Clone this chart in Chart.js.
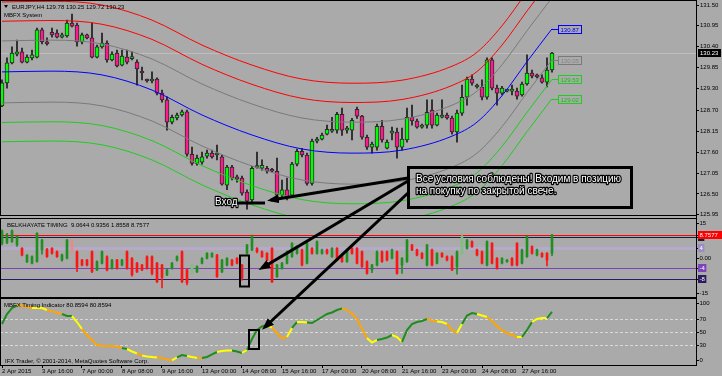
<!DOCTYPE html>
<html lang="ru">
<head>
<meta charset="utf-8">
<title>EURJPY H4 - MBFX System</title>
<script src="https://cdn.jsdelivr.net/npm/chart.js@4.4.1/dist/chart.umd.min.js"></script>
<style>
  html, body { margin: 0; padding: 0; background: #aaaaaa; }
  #screen { position: relative; width: 722px; height: 376px; overflow: hidden; background: #aaaaaa; }
  #screen canvas { position: absolute; left: 0; }
  #notes { position: absolute; left: 0; top: 0; font-family: 'Liberation Sans', Arial, sans-serif; }
  #notes .small { font-size: 6px; fill: #000; white-space: pre; }
  #notes .call { font-size: 10px; fill: #fff; stroke: #000; stroke-width: 2.4px; paint-order: stroke; stroke-linejoin: round; }
</style>
</head>
<body>
<div id="screen">
  <canvas id="mainChart" width="722" height="219" style="top:0"></canvas>
  <canvas id="belkChart" width="722" height="80" style="top:218px"></canvas>
  <canvas id="mbfxChart" width="722" height="78" style="top:298px"></canvas>
  <svg id="notes" width="722" height="376">
    <defs>
      <marker id="head" markerUnits="userSpaceOnUse" markerWidth="12" markerHeight="9" refX="8" refY="4.5" orient="auto">
        <path d="M0,0 L12,4.5 L0,9 z" fill="#000"/>
      </marker>
    </defs>
    <polygon points="4,5 8,5 6,8" fill="#000"/>
    <text class="small" x="12" y="8.5">EURJPY,H4 129.78 130.25 129.72 130.23</text>
    <text class="small" x="4" y="17">MBFX System</text>
    <text class="small" x="7" y="227">BELKHAYATE TIMING  9.0644 0.9356 1.8558 8.7577</text>
    <text class="small" x="4" y="307">MBFX Timing Indicator 80.8594 80.8594</text>
    <text class="small" x="5" y="363">IFX Trader, © 2001-2014, MetaQuotes Software Corp.</text>

    <line x1="408" y1="178" x2="271" y2="200" stroke="#000" stroke-width="3" marker-end="url(#head)"/>
    <line x1="408" y1="181" x2="262" y2="268" stroke="#000" stroke-width="3" marker-end="url(#head)"/>
    <line x1="408" y1="193" x2="265" y2="327" stroke="#000" stroke-width="3" marker-end="url(#head)"/>
    <rect x="408.5" y="167.5" width="223" height="40" fill="none" stroke="#000" stroke-width="3"/>
    <text class="call" x="416" y="182">Все условия соблюдены! Входим в позицию</text>
    <text class="call" x="416" y="194">на покупку по закрытой свече.</text>
    <text class="call" x="215" y="205">Вход</text>
    <line x1="237" y1="203" x2="265" y2="203" stroke="#000" stroke-width="3"/>
    <rect x="240" y="255.5" width="9" height="31" fill="none" stroke="#000" stroke-width="2"/>
    <rect x="249" y="330" width="10" height="19" fill="none" stroke="#000" stroke-width="2"/>
  </svg>
</div>
<script>
const FONT = "'Liberation Sans', Arial, sans-serif";
Chart.defaults.font.family = FONT;
Chart.defaults.animation = false;

// EURJPY H4, 2 Apr - 28 Apr 2015 (bar 0 .. 110)
const priceOpen = [128.83,129.44,129.97,130.20,130.26,129.99,130.10,130.12,130.84,130.52,
  130.78,130.76,130.65,130.68,131.02,130.97,130.52,130.71,130.63,130.12,
  130.39,130.49,130.05,130.23,129.91,130.12,130.08,129.99,129.75,129.52,
  129.49,129.54,129.17,128.99,128.40,128.51,128.59,128.67,127.55,127.31,
  127.34,127.50,127.58,127.53,127.48,126.73,127.21,126.95,126.92,126.55,
  126.34,127.20,127.18,127.18,127.13,127.10,126.47,126.61,126.47,127.29,
  127.63,127.53,126.78,127.90,127.95,128.08,128.16,128.19,128.61,128.19,
  128.19,128.74,128.56,128.00,127.74,127.74,128.29,127.71,128.11,128.14,
  127.74,127.93,128.53,128.43,128.27,128.32,128.72,128.32,128.53,128.59,
  128.51,128.14,128.64,129.06,129.54,129.33,129.33,129.06,130.05,129.30,
  129.17,129.22,129.22,129.22,129.12,129.41,129.70,129.65,129.57,129.46,
  129.78];
const priceHigh = [129.52,130.10,130.39,130.57,130.36,130.18,130.31,130.89,130.89,130.63,
  130.89,130.84,130.76,131.10,131.26,131.02,130.76,130.73,131.02,130.44,
  130.76,130.55,130.26,130.31,130.31,130.31,130.26,130.05,129.86,129.54,
  129.73,129.57,129.25,129.07,128.59,128.64,128.72,128.72,127.74,127.53,
  127.61,127.66,127.66,127.79,127.53,127.26,127.26,127.00,126.97,126.61,
  127.23,127.61,127.40,127.23,127.18,127.45,126.87,126.92,127.34,127.69,
  127.71,127.58,127.95,128.00,128.11,128.32,128.53,128.66,128.77,128.29,
  128.50,128.80,128.58,128.06,127.87,128.35,128.45,127.93,128.27,128.24,
  128.24,128.77,128.85,128.48,128.35,128.99,128.99,128.64,128.99,128.64,
  128.56,128.72,129.38,129.59,129.65,129.41,129.52,130.10,130.10,129.38,
  129.35,129.27,129.38,129.30,129.46,130.18,129.78,129.67,129.65,130.10,
  130.25];
const priceLow = [128.81,129.30,129.94,130.15,129.97,129.97,130.05,130.10,130.47,130.44,
  130.65,130.63,130.63,130.65,130.92,130.41,130.47,130.60,130.10,130.10,
  130.36,129.99,130.02,129.86,129.89,129.94,130.05,129.38,129.52,129.46,
  129.44,129.12,128.93,128.19,128.35,128.46,128.56,127.50,127.26,127.26,
  127.29,127.45,127.45,127.40,126.73,126.61,126.87,126.81,126.47,126.10,
  126.28,127.18,127.13,127.05,127.08,126.41,126.39,126.34,126.41,127.24,
  127.48,126.73,126.73,127.85,127.93,128.06,128.13,128.11,128.05,128.11,
  127.93,128.50,127.95,127.68,127.58,127.66,127.87,127.69,127.93,127.45,
  127.66,127.87,128.32,128.24,128.24,128.24,128.24,128.30,128.51,128.48,
  128.08,127.87,128.58,128.85,129.38,129.30,128.99,129.01,129.25,128.85,
  129.12,129.20,129.12,129.01,129.09,129.38,129.57,129.57,129.43,129.33,
  129.72];
const priceClose = [129.44,129.97,130.23,130.26,129.99,130.12,130.18,130.84,130.52,130.47,
  130.71,130.65,130.71,131.02,130.94,130.52,130.71,130.63,130.12,130.39,
  130.49,130.05,130.20,129.89,130.15,129.99,130.12,129.81,129.70,129.49,
  129.54,129.17,128.99,128.40,128.53,128.59,128.67,127.55,127.31,127.45,
  127.48,127.58,127.48,127.58,126.76,127.21,126.92,126.89,126.52,126.31,
  127.18,127.21,127.26,127.10,127.10,126.47,126.61,126.41,127.29,127.63,
  127.53,126.78,127.90,127.95,128.06,128.21,128.21,128.61,128.19,128.21,
  128.45,128.56,128.00,127.74,127.82,128.29,127.93,127.87,128.14,127.74,
  127.95,128.53,128.43,128.27,128.32,128.66,128.32,128.59,128.59,128.51,
  128.14,128.64,129.06,129.54,129.43,129.38,129.06,130.05,129.30,129.17,
  129.30,129.25,129.25,129.09,129.41,129.70,129.62,129.60,129.46,129.78,
  130.23];
const lastPrice = 130.23;
const priceTicks = [131.50, 130.95, 130.40, 129.85, 129.30, 128.70, 128.15, 127.60, 127.05, 126.50, 125.95];

// MBFX System channel, sampled along the bars
const bandBars   = [0, 10, 20, 30, 40, 50, 60, 70, 80, 90, 95, 100, 105, 110];
const bandRedOut = [131.58,131.60,131.50,131.10,130.44,129.91,129.54,129.43,129.51,129.88,130.25,130.95,131.85,132.72];
const bandRedIn  = [131.07,131.09,130.99,130.59,129.93,129.40,129.03,128.92,129.00,129.37,129.74,130.44,131.34,132.21];
const bandGrayUp = [130.55,130.57,130.47,130.07,129.41,128.88,128.51,128.40,128.48,128.85,129.22,129.92,130.82,131.69];
const bandMid    = [129.73,129.75,129.65,129.25,128.59,128.06,127.69,127.58,127.66,128.03,128.40,129.10,130.00,130.87];
const bandGrayDn = [128.91,128.93,128.83,128.43,127.77,127.24,126.87,126.76,126.84,127.21,127.58,128.28,129.18,130.05];
const bandGreenIn  = [128.39,128.41,128.31,127.91,127.25,126.72,126.35,126.24,126.32,126.69,127.06,127.76,128.66,129.53];
const bandGreenOut = [127.88,127.90,127.80,127.40,126.74,126.21,125.84,125.73,125.81,126.18,126.55,127.25,128.15,129.02];

// Belkhayate timing bars
const belkOpen = [5.6,6.0,6.3,5.0,3.7,-1.4,-2.0,-1.4,3.1,3.3,
  3.7,2.4,-0.8,-0.1,6.9,2.4,-0.8,-0.8,2.4,-4.6,
  -2.0,0.5,-4.0,-0.8,-2.7,2.4,-0.1,-2.0,-2.7,0.5,
  0.5,-2.0,-2.7,-6.5,-4.0,-0.8,2.4,-4.6,-5.9,-5.3,
  -2.0,-0.1,0.5,1.1,-5.3,-2.7,-0.8,-0.1,-2.7,1.8,
  3.1,3.7,2.4,1.8,3.7,-7.2,-4.0,-2.0,0.5,1.8,
  3.1,-2.0,3.7,1.8,1.8,3.1,0.5,3.7,1.1,-1.4,
  3.7,3.7,2.4,-1.4,-4.6,-2.7,2.4,2.4,-0.1,2.4,
  -2.7,-1.4,5.0,3.1,1.8,-2.7,3.1,-2.0,1.8,0.5,
  0.5,-3.3,1.8,3.7,6.3,3.1,2.4,-2.7,5.6,-0.1,
  -2.0,-1.4,-0.1,5.6,-2.0,0.5,4.4,1.1,1.8,1.8,
  1.86];
const belkHigh = [10.8,9.5,10.8,8.5,4.0,1.3,0.8,9.8,7.2,3.7,
  4.0,2.8,1.5,7.2,7.2,2.8,-0.5,-0.5,2.8,-1.1,
  2.8,0.8,-0.5,-0.5,-0.5,2.8,0.2,-1.7,-2.4,0.8,
  0.8,-1.7,-2.4,-4.3,-1.7,0.8,2.8,-4.3,-2.4,-3.0,
  0.2,2.1,2.1,1.4,-0.5,0.2,-0.5,0.2,-2.4,5.3,
  8.8,4.0,2.8,2.1,4.0,-2.4,-1.7,2.8,5.9,4.7,
  3.4,5.9,4.0,6.6,3.4,3.4,4.0,4.0,1.4,3.4,
  4.0,4.0,2.8,-1.1,-2.4,2.8,2.8,2.8,3.4,2.8,
  0.2,7.2,5.3,3.4,2.1,5.3,3.4,2.1,2.1,0.8,
  0.8,2.8,9.5,7.2,6.6,3.4,2.8,6.6,5.9,0.2,
  0.2,-0.5,0.2,5.9,3.4,8.5,4.7,3.4,2.1,2.1,
  9.06];
const belkLow = [5.0,5.5,6.0,4.5,0.8,-1.8,-2.3,-1.6,1.5,0.2,
  1.5,0.2,-1.2,-0.4,2.0,-5.3,-3.0,-3.0,-5.6,-4.9,
  -2.3,-5.0,-4.3,-4.3,-3.0,-4.3,-7.0,-5.6,-4.9,-4.3,
  -6.5,-9.5,-11.5,-6.8,-4.3,-1.2,-9.5,-10.4,-6.2,-5.6,
  -2.3,-0.4,0.2,-7.5,-5.6,-3.0,-3.0,-2.3,-8.5,1.5,
  2.8,2.0,0.2,-1.1,-9.5,-7.5,-4.3,-2.3,0.2,1.5,
  -3.0,-2.3,1.5,1.5,1.5,1.5,0.2,-1.1,-1.7,-1.7,
  1.5,-2.3,-3.6,-6.2,-5.6,-3.0,-1.7,-1.1,-0.4,-6.2,
  -5.9,-1.7,2.8,0.8,-0.4,-3.0,-3.0,-2.3,0.2,-1.1,
  -4.9,-6.2,1.5,3.4,4.1,0.8,-2.3,-3.0,-2.3,-4.3,
  -2.3,-1.7,-3.0,-3.0,-2.3,0.2,1.5,0.8,0.2,-3.0,
  0.94];
const belkClose = [10.4,9.0,10.4,8.2,1.1,1.1,0.5,9.5,6.9,0.5,
  1.8,0.5,1.2,6.9,2.4,-3.5,-2.7,-2.7,-5.2,-1.4,
  2.4,-4.6,-0.8,-4.0,-0.8,-4.0,-6.5,-5.3,-4.6,-4.0,
  -5.9,-9.1,-7.5,-4.6,-2.0,0.5,-9.1,-9.5,-2.7,-3.3,
  -0.1,1.8,1.8,-7.2,-0.8,-0.1,-2.7,-2.0,-7.8,5.0,
  8.2,2.4,0.5,-0.8,-9.1,-2.7,-2.0,2.4,5.6,4.4,
  -2.7,5.6,1.8,6.3,3.1,1.8,3.7,-0.8,-1.4,3.1,
  1.8,-2.0,-3.3,-5.9,-2.7,2.4,-1.4,-0.8,3.1,-5.9,
  -0.1,6.9,3.1,1.1,-0.1,5.0,-2.7,1.8,0.5,-0.8,
  -4.6,2.4,8.2,6.9,4.4,1.1,-2.0,6.3,-2.0,-4.0,
  -0.1,-0.8,-2.7,-2.7,3.1,8.2,1.8,3.1,0.5,-0.8,
  8.76];
const belkLight = [14, 38, 92];
const belkLast = 8.7577;

// MBFX timing line and its colour state per segment (G rising, Y flat, O falling)
const mbfxValues = [62.3,77.7,86.9,90.8,90.8,88.5,86.9,86.9,86.9,83.8,
  81.5,80.0,77.7,74.6,74.6,65.4,54.6,45.4,37.7,30.0,
  28.5,28.5,28.5,27.7,25.4,23.8,20.0,16.9,13.8,12.3,
  11.5,10.8,10.0,7.7,6.2,10.8,14.6,13.1,11.5,10.0,
  10.0,11.5,15.4,19.2,20.8,21.5,21.5,20.0,17.7,22.3,
  39.2,53.1,58.5,60.8,56.9,48.5,40.0,42.3,56.2,65.4,
  65.4,64.6,63.8,68.5,73.1,77.7,80.0,83.8,86.1,83.8,
  78.5,70.0,54.6,40.8,33.8,37.7,39.2,41.5,45.4,42.3,
  34.6,53.1,62.3,65.4,66.9,70.0,67.7,66.2,65.4,62.3,
  53.1,48.5,62.3,75.4,79.2,77.7,75.4,73.1,66.9,59.2,
  52.3,48.5,45.4,42.3,42.3,53.1,65.4,70.0,71.5,71.5,
  80.86];
const mbfxTrend = 'GGGOOOYYYOOOGGYYOOOOOOOOGYYOYYYOOOYGGYYOGGGYYYGGYGGGGYOOOYGYYGGGGGGGOOOOOYYGGGYYGGGGGOOYYOOYGGGYYOOOOOOYGGYYYGG';

const timeLabels = ['2 Apr 2015', '3 Apr 16:00', '7 Apr 00:00', '8 Apr 08:00', '9 Apr 16:00', '13 Apr 00:00', '14 Apr 08:00',
  '15 Apr 16:00', '17 Apr 00:00', '20 Apr 08:00', '21 Apr 16:00', '23 Apr 00:00', '24 Apr 08:00', '27 Apr 16:00'];
const timeLabelBars = [0, 8, 16, 24, 32, 40, 48, 56, 64, 72, 80, 88, 96, 104];

// ---- layout helpers ----
const X_MIN = -0.4, X_MAX = 138.8;   // 5 px per bar, bar 0 at x=2
const LABEL_BAR = 111.2;             // where the channel price tags sit
const BULL = '#00ff00', BEAR = '#ff1a8c';
const trendColors = { G: '#1e8c1e', Y: '#ffff00', O: '#ffa500' };

const bars = priceOpen.map((_, i) => i);

function hiddenX() {
    return { type: 'linear', min: X_MIN, max: X_MAX, display: false, offset: false };
}

function makeFrame(stopAtBottom) {
    return {
        id: 'frame',
        afterDraw(chart) {
            const { ctx, chartArea: a } = chart;
            ctx.save();
            ctx.strokeStyle = '#000';
            ctx.lineWidth = 1;
            ctx.beginPath();
            ctx.moveTo(0, a.top - 0.5); ctx.lineTo(a.right, a.top - 0.5);
            ctx.moveTo(0, a.bottom + 0.5); ctx.lineTo(a.right, a.bottom + 0.5);
            ctx.moveTo(0.5, a.top); ctx.lineTo(0.5, a.bottom);
            ctx.moveTo(a.right + 0.5, 0); ctx.lineTo(a.right + 0.5, stopAtBottom ? a.bottom + 1 : chart.height);
            ctx.stroke();
            ctx.restore();
        }
    };
}

function levelLines(levels) {
    return {
        id: 'levelLines',
        beforeDatasetsDraw(chart) {
            const { ctx, chartArea: a, scales: { y } } = chart;
            ctx.save();
            levels.forEach(l => {
                const py = Math.round(y.getPixelForValue(l.v)) + (l.w % 2 ? 0.5 : 0);
                ctx.strokeStyle = l.color;
                ctx.lineWidth = l.w;
                ctx.setLineDash(l.dash || []);
                ctx.beginPath();
                ctx.moveTo(a.left, py);
                ctx.lineTo(a.right, py);
                ctx.stroke();
            });
            ctx.restore();
        }
    };
}

function sideLabels(items) {
    return {
        id: 'sideLabels',
        afterDraw(chart) {
            const { ctx, chartArea: a, scales: { y } } = chart;
            ctx.save();
            ctx.font = '6px ' + FONT;
            ctx.textBaseline = 'middle';
            items.forEach(it => {
                const py = Math.round(y.getPixelForValue(it.v) + (it.dy || 0)) + 0.5;
                ctx.strokeStyle = '#000';
                ctx.lineWidth = 1;
                ctx.beginPath();
                ctx.moveTo(a.right, py);
                ctx.lineTo(a.right + 3, py);
                ctx.stroke();
                if (it.bg) {
                    const w = it.wide ? 722 - a.right - 1 : ctx.measureText(it.text).width + 3;
                    ctx.fillStyle = it.bg;
                    ctx.fillRect(a.right + 2, py - 4.5, w, 8);
                }
                ctx.fillStyle = it.fg || '#000';
                ctx.fillText(it.text, a.right + 3.5, py);
            });
            ctx.restore();
        }
    };
}

// ---- main price panel ----
const mainExtras = {
    id: 'mainExtras',
    beforeDatasetsDraw(chart) {
        const { ctx, chartArea: a, scales: { y } } = chart;
        const py = Math.round(y.getPixelForValue(lastPrice)) + 0.5;
        ctx.save();
        ctx.strokeStyle = '#bdbdbd';
        ctx.lineWidth = 1;
        ctx.beginPath();
        ctx.moveTo(a.left, py);
        ctx.lineTo(a.right, py);
        ctx.stroke();
        ctx.restore();
    },
    afterDatasetsDraw(chart) {
        const { ctx, scales: { x, y } } = chart;
        ctx.save();
        ctx.font = '6px ' + FONT;
        ctx.textBaseline = 'middle';
        chart.data.datasets.forEach(ds => {
            if (!ds.tagColor) return;
            const last = ds.data[ds.data.length - 1];
            const py = Math.round(y.getPixelForValue(last.y)) + 0.5;
            const x0 = x.getPixelForValue(last.x);
            const x1 = Math.round(x.getPixelForValue(LABEL_BAR)) + 0.5;
            ctx.strokeStyle = ds.borderColor;
            ctx.lineWidth = 1;
            ctx.beginPath();
            ctx.moveTo(x0, py);
            ctx.lineTo(x1, py);
            ctx.stroke();
            ctx.strokeRect(x1, py - 4, 23, 8);
            ctx.fillStyle = ds.tagColor;
            ctx.fillText(last.y.toFixed(2), x1 + 2, py + 0.5);
        });
        ctx.restore();
    },
    afterDraw(chart) {
        const { ctx, chartArea: a, scales: { y } } = chart;
        const py = Math.round(y.getPixelForValue(lastPrice)) + 0.5;
        ctx.save();
        ctx.fillStyle = '#000';
        ctx.fillRect(a.right + 2, py - 4.5, 722 - a.right - 3, 8);
        ctx.fillStyle = '#fff';
        ctx.font = '6px ' + FONT;
        ctx.textBaseline = 'middle';
        ctx.fillText(lastPrice.toFixed(2), a.right + 4, py);
        ctx.restore();
    }
};

function band(values, color, tagColor) {
    return {
        type: 'line',
        data: bandBars.map((b, k) => ({ x: b, y: values[k] })),
        borderColor: color,
        borderWidth: 1,
        pointRadius: 0,
        cubicInterpolationMode: 'monotone',
        fill: false,
        order: 0,
        tagColor: tagColor
    };
}

new Chart(document.getElementById('mainChart'), {
    type: 'bar',
    data: {
        datasets: [
            band(bandRedOut, '#ff0000'),
            band(bandRedIn, '#ff0000'),
            band(bandGrayUp, '#7a7a7a'),
            band(bandMid, '#0000ff', '#0000ff'),
            band(bandGrayDn, '#7a7a7a', '#858585'),
            band(bandGreenIn, '#1fcc1f', '#10c010'),
            band(bandGreenOut, '#1fcc1f', '#10c010'),
            {
                data: bars.map(i => ({ x: i, y: [priceOpen[i], priceClose[i]] })),
                backgroundColor: bars.map(i => priceClose[i] >= priceOpen[i] ? BULL : BEAR),
                borderColor: '#2a2a2a',
                borderWidth: 1,
                borderSkipped: false,
                barThickness: 4,
                minBarLength: 2,
                grouped: false,
                order: 1
            },
            {
                data: bars.map(i => ({ x: i, y: [priceLow[i], priceHigh[i]] })),
                backgroundColor: '#1a1a1a',
                barThickness: 1,
                grouped: false,
                order: 2
            }
        ]
    },
    options: {
        responsive: false,
        devicePixelRatio: 1,
        events: [],
        layout: { autoPadding: false, padding: { left: 0, top: 1, right: 0, bottom: 4 } },
        plugins: { legend: { display: false }, tooltip: { enabled: false } },
        scales: {
            x: hiddenX(),
            y: {
                position: 'right',
                min: 125.943,
                max: 131.606,
                afterBuildTicks: s => { s.ticks = priceTicks.map(v => ({ value: v })); },
                afterFit: s => { s.width = 26; s.paddingTop = 0; s.paddingBottom = 0; },
                ticks: { autoSkip: false, padding: 1, color: '#000', font: { size: 6 }, callback: v => v.toFixed(2) },
                grid: { drawOnChartArea: false, drawTicks: true, tickLength: 3, color: '#000' },
                border: { display: true, color: '#000' }
            }
        }
    },
    plugins: [mainExtras, makeFrame(false)]
});

// ---- Belkhayate timing panel ----
function belkColor(i) {
    const up = belkClose[i] >= belkOpen[i];
    if (belkLight.includes(i)) return up ? '#7fbf7f' : '#e88a8a';
    return up ? '#1f8f1f' : '#ff1414';
}

new Chart(document.getElementById('belkChart'), {
    type: 'bar',
    data: {
        datasets: [
            {
                data: bars.map(i => ({ x: i, y: [belkOpen[i], belkClose[i]] })),
                backgroundColor: bars.map(belkColor),
                barThickness: 2,
                minBarLength: 1,
                grouped: false,
                order: 1
            },
            {
                data: bars.map(i => ({ x: i, y: [belkLow[i], belkHigh[i]] })),
                backgroundColor: bars.map(belkColor),
                barThickness: 1,
                grouped: false,
                order: 2
            }
        ]
    },
    options: {
        responsive: false,
        devicePixelRatio: 1,
        events: [],
        layout: { autoPadding: false, padding: { left: 0, top: 1, right: 26, bottom: 1 } },
        plugins: { legend: { display: false }, tooltip: { enabled: false } },
        scales: {
            x: hiddenX(),
            y: { display: false, min: -15, max: 15 }
        }
    },
    plugins: [
        levelLines([
            { v: 4, color: '#b5a9cc', w: 3 },
            { v: -4, color: '#7c44b8', w: 1 },
            { v: -8, color: '#2e1a5e', w: 1 },
            { v: 8, color: '#1c1c3a', w: 1 },
            { v: belkLast, color: '#ff0000', w: 1 }
        ]),
        sideLabels([
            { v: 15, text: '15', dy: 4 },
            { v: 8, text: '8', bg: '#1c1c3a', fg: '#fff' },
            { v: belkLast, text: belkLast.toFixed(4), bg: '#ff0000', fg: '#fff', wide: true },
            { v: 4, text: '4', bg: '#9d8bc6', fg: '#fff' },
            { v: 0, text: '0.00' },
            { v: -4, text: '-4', bg: '#7c44b8', fg: '#fff' },
            { v: -8, text: '-8', bg: '#2e1a5e', fg: '#fff' },
            { v: -15, text: '-15', dy: -4 }
        ]),
        makeFrame(false)
    ]
});

// ---- MBFX timing panel ----
new Chart(document.getElementById('mbfxChart'), {
    type: 'line',
    data: {
        datasets: [{
            data: bars.map(i => ({ x: i, y: mbfxValues[i] })),
            borderWidth: 2,
            pointRadius: 0,
            tension: 0,
            borderColor: trendColors.G,
            segment: { borderColor: c => trendColors[mbfxTrend[c.p0DataIndex]] }
        }]
    },
    options: {
        responsive: false,
        devicePixelRatio: 1,
        events: [],
        layout: { autoPadding: false, padding: { left: 0, top: 1, right: 26, bottom: 0 } },
        plugins: { legend: { display: false }, tooltip: { enabled: false } },
        scales: {
            x: {
                type: 'linear',
                min: X_MIN,
                max: X_MAX,
                offset: false,
                afterBuildTicks: s => { s.ticks = timeLabelBars.map(v => ({ value: v })); },
                afterFit: s => { s.height = 11; s.paddingLeft = 0; s.paddingRight = 0; },
                ticks: {
                    autoSkip: false, maxRotation: 0, align: 'start', padding: 0,
                    color: '#000', font: { size: 6 },
                    callback: (v, i) => timeLabels[i]
                },
                grid: { drawOnChartArea: false, drawTicks: true, tickLength: 3, color: '#000' },
                border: { display: false }
            },
            y: { display: false, min: -0.8, max: 100.8 }
        }
    },
    plugins: [
        levelLines([
            { v: 70, color: '#d8d8d8', w: 1, dash: [3, 2] },
            { v: 50, color: '#d8d8d8', w: 1, dash: [3, 2] },
            { v: 30, color: '#d8d8d8', w: 1, dash: [3, 2] }
        ]),
        sideLabels([
            { v: 100, text: '100', dy: 3.5 },
            { v: 70, text: '70' },
            { v: 50, text: '50' },
            { v: 30, text: '30' },
            { v: 0, text: '0', dy: -4.5 }
        ]),
        makeFrame(true)
    ]
});
</script>
</body>
</html>
